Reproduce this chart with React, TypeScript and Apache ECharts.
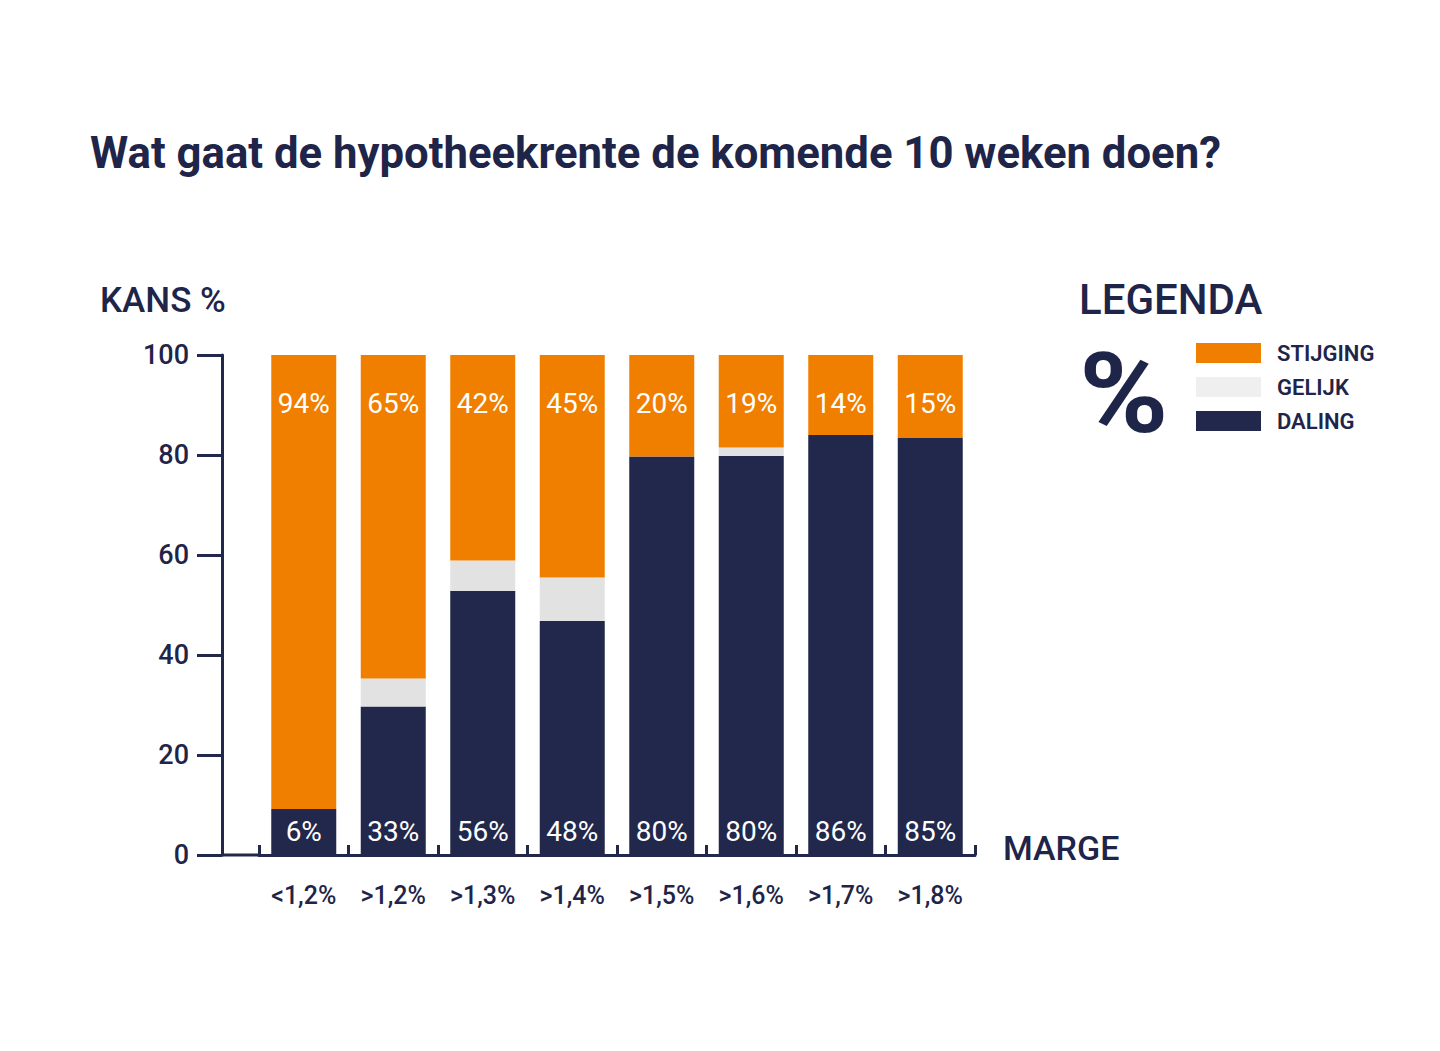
import { useEffect, useRef } from 'react';
import * as echarts from 'echarts';

// ─── Data ─────────────────────────────────────────────────────────────────────

const categories = ['<1,2%', '>1,2%', '>1,3%', '>1,4%', '>1,5%', '>1,6%', '>1,7%', '>1,8%'];

// bar segment heights as drawn (percent of the full bar)
const daling = [9.2, 29.7, 52.8, 46.8, 79.7, 79.8, 84, 83.4];
const gelijk = [0, 5.6, 6.1, 8.7, 0, 1.7, 0, 0];
const stijging = [90.8, 64.7, 41.1, 44.5, 20.3, 18.5, 16, 16.6];

// printed labels inside the bars
const stijgingLabels = ['94%', '65%', '42%', '45%', '20%', '19%', '14%', '15%'];
const dalingLabels = ['6%', '33%', '56%', '48%', '80%', '80%', '86%', '85%'];

const yTicks = [0, 20, 40, 60, 80, 100];

// ─── Styles ───────────────────────────────────────────────────────────────────

const NAVY = '#22284b';
const TEXT = '#1f2548';
const ORANGE = '#f07f00';
const GREY = '#e2e2e2';
const FONT = 'Roboto, "Noto Sans", sans-serif';

function buildOption(): echarts.EChartsOption {
  return {
    animation: false,
    backgroundColor: '#ffffff',
    grid: { left: 259, right: 465, top: 355, bottom: 196, containLabel: false },
    legend: {
      orient: 'vertical',
      left: 1196,
      top: 342,
      padding: 0,
      itemWidth: 65,
      itemHeight: 20,
      itemGap: 12,
      icon: 'rect',
      selectedMode: false,
      textStyle: { color: TEXT, fontFamily: FONT, fontSize: 22, fontWeight: 600, padding: [0, 0, 0, 11] },
      data: [
        { name: 'STIJGING' },
        { name: 'GELIJK', itemStyle: { color: '#efefef' } },
        { name: 'DALING' },
      ],
    },
    xAxis: {
      type: 'category',
      data: categories,
      boundaryGap: true,
      axisLine: { lineStyle: { color: NAVY, width: 3 } },
      axisTick: { show: true, inside: true, length: 10, lineStyle: { color: NAVY, width: 3 } },
      axisLabel: { color: TEXT, fontFamily: FONT, fontSize: 25, fontWeight: 500, margin: 28 },
      splitLine: { show: false },
      z: 5,
    },
    yAxis: {
      type: 'value',
      min: yTicks[0],
      max: yTicks[yTicks.length - 1],
      interval: 20,
      offset: 37,
      axisLine: { show: true, lineStyle: { color: NAVY, width: 3 } },
      axisTick: { show: true, length: 25, lineStyle: { color: NAVY, width: 3 } },
      axisLabel: { color: TEXT, fontFamily: FONT, fontSize: 27, fontWeight: 500, margin: 33 },
      splitLine: { show: false },
    },
    series: [
      {
        name: 'DALING',
        type: 'bar',
        stack: 'total',
        barWidth: 65,
        data: daling,
        itemStyle: { color: NAVY },
        label: {
          show: true,
          position: 'insideBottom',
          distance: 10,
          color: '#ffffff',
          fontFamily: FONT,
          fontSize: 28,
          formatter: (p: any) => dalingLabels[p.dataIndex],
        },
      },
      {
        name: 'GELIJK',
        type: 'bar',
        stack: 'total',
        barWidth: 65,
        data: gelijk,
        itemStyle: { color: GREY },
      },
      {
        name: 'STIJGING',
        type: 'bar',
        stack: 'total',
        barWidth: 65,
        data: stijging,
        itemStyle: { color: ORANGE },
        label: {
          show: true,
          position: 'insideTop',
          distance: 34,
          color: '#ffffff',
          fontFamily: FONT,
          fontSize: 28,
          formatter: (p: any) => stijgingLabels[p.dataIndex],
        },
      },
    ],
    graphic: [
      // x axis runs on to the y axis
      {
        type: 'line',
        shape: { x1: 221, y1: 855, x2: 260, y2: 855 },
        style: { stroke: NAVY, lineWidth: 3 },
      },
      {
        type: 'text',
        style: {
          text: 'Wat gaat de hypotheekrente de komende 10 weken doen?',
          x: 90, y: 153, verticalAlign: 'middle',
          font: `bold 43.7px ${FONT}`, fill: TEXT,
        },
      },
      {
        type: 'text',
        style: { text: 'KANS %', x: 100, y: 300, verticalAlign: 'middle', font: `500 35px ${FONT}`, fill: TEXT },
      },
      {
        type: 'text',
        style: { text: 'MARGE', x: 1003, y: 848, verticalAlign: 'middle', font: `500 34px ${FONT}`, fill: TEXT },
      },
      {
        type: 'text',
        style: { text: 'LEGENDA', x: 1079, y: 299, verticalAlign: 'middle', font: `500 42px ${FONT}`, fill: TEXT },
      },
      {
        type: 'text',
        x: 1079,
        y: 394,
        scaleX: 1.08,
        style: { text: '%', x: 0, y: 0, verticalAlign: 'middle', font: `bold 112px ${FONT}`, fill: TEXT },
      },
    ],
  };
}

// ─── Chart ────────────────────────────────────────────────────────────────────

export default function App() {
  const ref = useRef<HTMLDivElement>(null);

  useEffect(() => {
    document.body.style.margin = '0';
    if (!ref.current) return;
    const chart = echarts.init(ref.current, null, { renderer: 'svg' });
    chart.setOption(buildOption());
    return () => chart.dispose();
  }, []);

  return <div ref={ref} style={{ width: 1440, height: 1051 }} />;
}
